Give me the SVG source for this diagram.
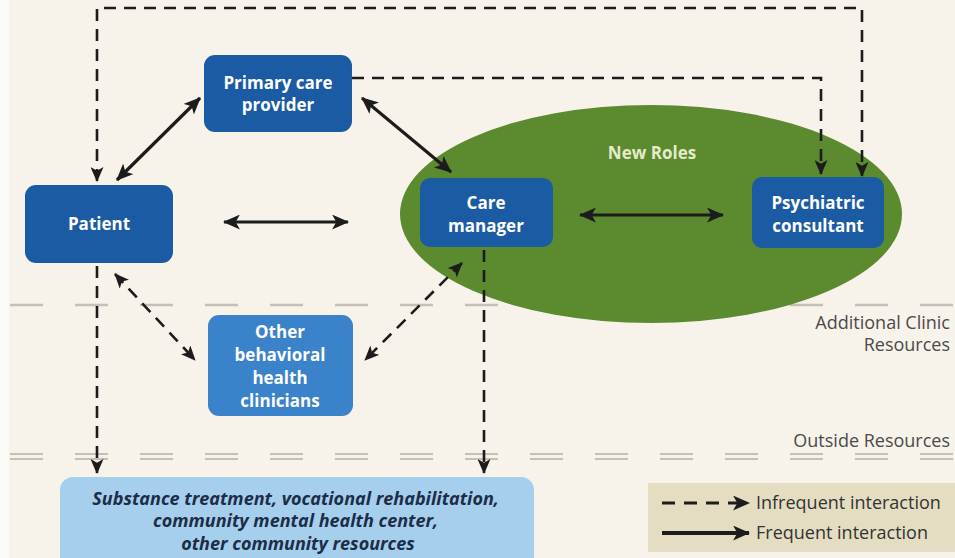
<svg xmlns="http://www.w3.org/2000/svg" width="955" height="558" viewBox="0 0 955 558">
<defs>
<style>
.node{fill:#1b5ba3}
.lt{fill:#3a82c9}
.nt{font-family:"Open Sans","Liberation Sans",sans-serif;font-weight:700;font-size:17px;fill:#ffffff;text-anchor:middle}
.sol{stroke:#1c1c1c;stroke-width:3.2;fill:none;marker-start:url(#ah);marker-end:url(#ah)}
.dsh{stroke:#1c1c1c;stroke-width:2.6;fill:none;stroke-dasharray:12 8}
.sep{stroke:#c4c0b6;stroke-width:2.5;fill:none;stroke-dasharray:33 32}
.lab{font-family:"Open Sans","Liberation Sans",sans-serif;font-size:18px;fill:#4a4a4a;text-anchor:end}
.leg{font-family:"Open Sans","Liberation Sans",sans-serif;font-size:18px;fill:#333333}
</style>
<marker id="ah" viewBox="0 0 16 14" refX="15" refY="7" markerWidth="17" markerHeight="15" markerUnits="userSpaceOnUse" orient="auto-start-reverse">
<path d="M0,0 L16,7 L0,14 L4,7 z" fill="#1c1c1c"/>
</marker>
<marker id="ahd" viewBox="0 0 16 14" refX="15" refY="7" markerWidth="15" markerHeight="13" markerUnits="userSpaceOnUse" orient="auto-start-reverse">
<path d="M0,0 L16,7 L0,14 L4,7 z" fill="#1c1c1c"/>
</marker>
</defs>
<rect x="0" y="0" width="955" height="558" fill="#f7f3ea"/>
<rect x="0" y="0" width="9" height="558" fill="#fbfaf6"/>

<g id="separators">
<line class="sep" x1="10" y1="305" x2="955" y2="305"/>
<line class="sep" x1="10" y1="454" x2="955" y2="454" style="stroke-width:2"/>
<line class="sep" x1="10" y1="459" x2="955" y2="459" style="stroke-width:2"/>
<text class="lab" x="950" y="329">Additional Clinic</text>
<text class="lab" x="950" y="351">Resources</text>
<text class="lab" x="950" y="447">Outside Resources</text>
</g>

<g id="new-roles">
<ellipse cx="651" cy="214" rx="251" ry="109" fill="#5b8a2f"/>
<text x="652" y="159" font-family="Open Sans, Liberation Sans, sans-serif" font-weight="700" font-size="17" fill="#e4ebc9" text-anchor="middle">New Roles</text>
</g>

<g id="patient">
<rect class="node" x="25" y="185" width="148" height="78" rx="11"/>
<text class="nt" x="99" y="230">Patient</text>
</g>

<g id="primary-care-provider">
<rect class="node" x="204" y="55" width="148" height="77" rx="11"/>
<text class="nt" x="278" y="89">Primary care</text>
<text class="nt" x="278" y="111">provider</text>
</g>

<g id="care-manager">
<rect class="node" x="420" y="178" width="133" height="69" rx="10"/>
<text class="nt" x="486" y="209">Care</text>
<text class="nt" x="486" y="232">manager</text>
</g>

<g id="psychiatric-consultant">
<rect class="node" x="752" y="177" width="132" height="71" rx="10"/>
<text class="nt" x="818" y="209">Psychiatric</text>
<text class="nt" x="818" y="232">consultant</text>
</g>

<g id="other-behavioral-health-clinicians">
<rect class="lt" x="208" y="315" width="145" height="101" rx="11"/>
<text class="nt" x="280" y="338">Other</text>
<text class="nt" x="280" y="361">behavioral</text>
<text class="nt" x="280" y="384">health</text>
<text class="nt" x="280" y="407">clinicians</text>
</g>

<g id="outside-resources">
<rect x="60" y="477" width="474" height="100" rx="13" fill="#a6cfee"/>
<text font-family="Open Sans, Liberation Sans, sans-serif" font-weight="700" font-style="italic" font-size="18" fill="#1b2d47" text-anchor="middle">
<tspan x="298" y="505">Substance treatment, vocational rehabilitation,</tspan>
<tspan x="298" y="527">community mental health center,</tspan>
<tspan x="298" y="550">other community resources</tspan>
</text>
</g>

<g id="connectors">
<path class="dsh" d="M97,181 V8 H862 V176" style="marker-start:url(#ahd);marker-end:url(#ahd)"/>
<path class="dsh" d="M352,78 H821 V174" style="marker-end:url(#ahd)"/>
<path class="dsh" d="M115,274 L195,360" style="marker-start:url(#ahd);marker-end:url(#ahd)"/>
<path class="dsh" d="M462,263 L365,360" style="marker-start:url(#ahd);marker-end:url(#ahd)"/>
<path class="dsh" d="M97,266 V473" style="marker-end:url(#ahd)"/>
<path class="dsh" d="M484,250 V473" style="marker-end:url(#ahd)"/>
<path class="sol" d="M117,180 L200,98"/>
<path class="sol" d="M362,98 L451,172"/>
<path class="sol" d="M224,222 L348,222"/>
<path class="sol" d="M580,215 L723,215"/>
</g>

<g id="legend">
<rect x="648" y="483" width="307" height="69" fill="#e4ddc2"/>
<path class="dsh" d="M662,503 H749" style="stroke-width:3;stroke-dasharray:13 9;marker-end:url(#ah)"/>
<path d="M662,533 H749" style="stroke:#1c1c1c;stroke-width:4;fill:none;marker-end:url(#ah)"/>
<text class="leg" x="756" y="509">Infrequent interaction</text>
<text class="leg" x="756" y="539">Frequent interaction</text>
</g>
</svg>
